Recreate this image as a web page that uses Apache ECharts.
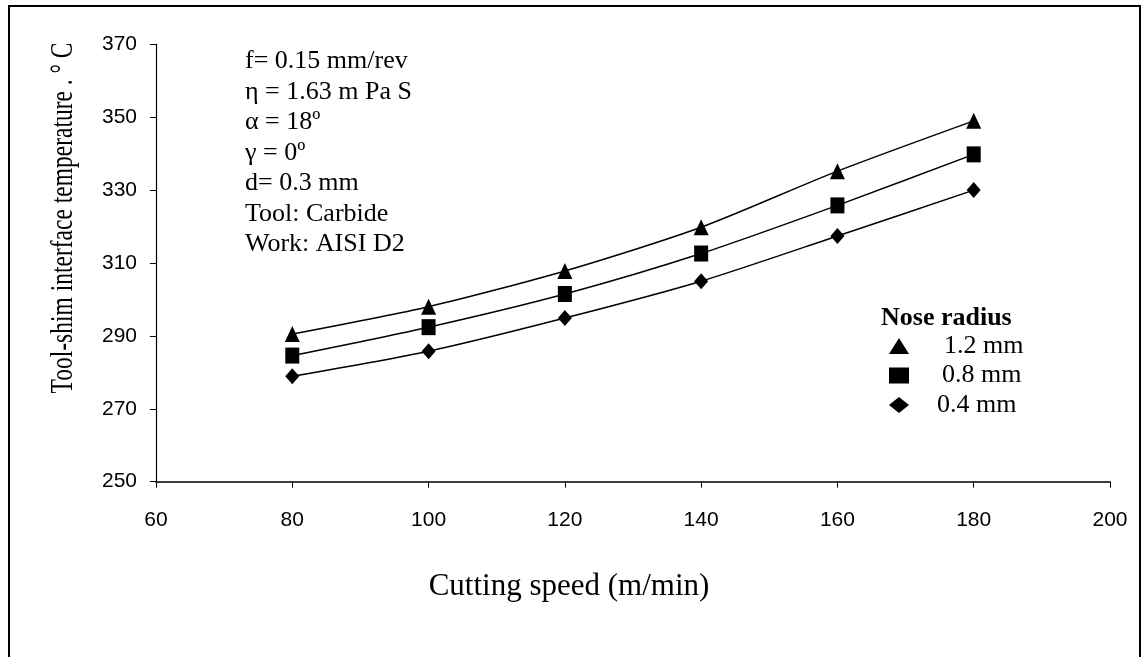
<!DOCTYPE html>
<html>
<head>
<meta charset="utf-8">
<script src="https://cdn.jsdelivr.net/npm/echarts@6/dist/echarts.min.js"></script>
<style>
  html, body { margin: 0; padding: 0; background: #fff; }
  #chart { width: 1143px; height: 657px; }
</style>
</head>
<body>
<div id="chart"></div>
<script>
// Cutting speed (m/min)
const speeds = [80, 100, 120, 140, 160, 180];
// Tool-shim interface temperature (°C) for each nose radius
const temp12 = [290.5, 298, 307.8, 319.8, 335.2, 349];
const temp08 = [284.6, 292.4, 301.5, 312.6, 325.8, 339.8];
const temp04 = [278.9, 285.8, 294.9, 305, 317.4, 330];
const seriesNames = ['1.2 mm', '0.8 mm', '0.4 mm'];
const conditions = [
  'f= 0.15 mm/rev',
  'η = 1.63 m Pa S',
  'α = 18º',
  'γ = 0º',
  'd= 0.3 mm',
  'Tool: Carbide',
  'Work: AISI D2'
];

const serif = '"Liberation Serif", "Times New Roman", serif';
const sans = '"Liberation Sans", Arial, sans-serif';

const pairs = vals => speeds.map((s, i) => [s, vals[i]]);

function lineSeries(name, vals, symbol, size) {
  return {
    name: name,
    type: 'line',
    data: pairs(vals),
    smooth: 0.25,
    symbol: symbol,
    symbolSize: size,
    showAllSymbol: true,
    lineStyle: { color: '#000', width: 1.5 },
    itemStyle: { color: '#000' },
    emphasis: { disabled: true },
    z: 3
  };
}

const chart = echarts.init(document.getElementById('chart'), null, { renderer: 'canvas' });
chart.setOption({
  animation: false,
  backgroundColor: '#fff',
  grid: { left: 156, top: 44.3, right: 33, bottom: 175.3, containLabel: false },
  xAxis: {
    type: 'value',
    min: 60, max: 200, interval: 20,
    axisLine: { lineStyle: { color: '#000', width: 1.6 } },
    axisTick: { show: true, length: 6, inside: false, lineStyle: { color: '#000', width: 1 } },
    axisLabel: { color: '#000', fontFamily: sans, fontSize: 21, margin: 28 },
    splitLine: { show: false }
  },
  yAxis: {
    type: 'value',
    min: 250, max: 370, interval: 20,
    axisLine: { show: true, lineStyle: { color: '#000', width: 1.2 } },
    axisTick: { show: true, length: 6, inside: false, lineStyle: { color: '#000', width: 1 } },
    axisLabel: { color: '#000', fontFamily: sans, fontSize: 21, margin: 19 },
    splitLine: { show: false }
  },
  legend: {
    orient: 'vertical',
    left: 889, top: 333, padding: 0,
    itemWidth: 20, itemHeight: 16, itemGap: 3.5,
    selectedMode: false,
    textStyle: { color: '#000', fontFamily: serif, fontSize: 26 },
    data: [
      { name: '1.2 mm', icon: 'triangle', textStyle: { padding: [0, 0, 0, 30] } },
      { name: '0.8 mm', icon: 'rect', textStyle: { padding: [0, 0, 0, 28] } },
      { name: '0.4 mm', icon: 'diamond', textStyle: { padding: [0, 0, 0, 23] } }
    ]
  },
  graphic: [
    {
      type: 'rect', silent: true, z: 10,
      shape: { x: 9, y: 6, width: 1131, height: 700 },
      style: { fill: 'none', stroke: '#000', lineWidth: 2 }
    },
    {
      type: 'text', silent: true,
      x: 63.5, y: 218, rotation: Math.PI / 2, scaleY: 1.3,
      style: {
        text: 'Tool-shim interface temperature . ° C',
        fill: '#000', font: '23.5px ' + serif,
        textAlign: 'center', textVerticalAlign: 'middle'
      }
    },
    {
      type: 'text', silent: true,
      x: 569, y: 587,
      style: {
        text: 'Cutting speed (m/min)',
        fill: '#000', font: '31px ' + serif,
        textAlign: 'center', textVerticalAlign: 'middle'
      }
    },
    {
      type: 'text', silent: true,
      x: 245, y: 46.4,
      style: {
        text: conditions.join('\n'),
        fill: '#000', font: '26px ' + serif,
        lineHeight: 30.5
      }
    },
    {
      type: 'text', silent: true,
      x: 881, y: 318,
      style: {
        text: 'Nose radius',
        fill: '#000', font: 'bold 26px ' + serif,
        textVerticalAlign: 'middle'
      }
    }
  ],
  series: [
    lineSeries(seriesNames[0], temp12, 'triangle', [15, 16]),
    lineSeries(seriesNames[1], temp08, 'rect', [14, 16]),
    lineSeries(seriesNames[2], temp04, 'diamond', [14, 16])
  ]
});
</script>
</body>
</html>
